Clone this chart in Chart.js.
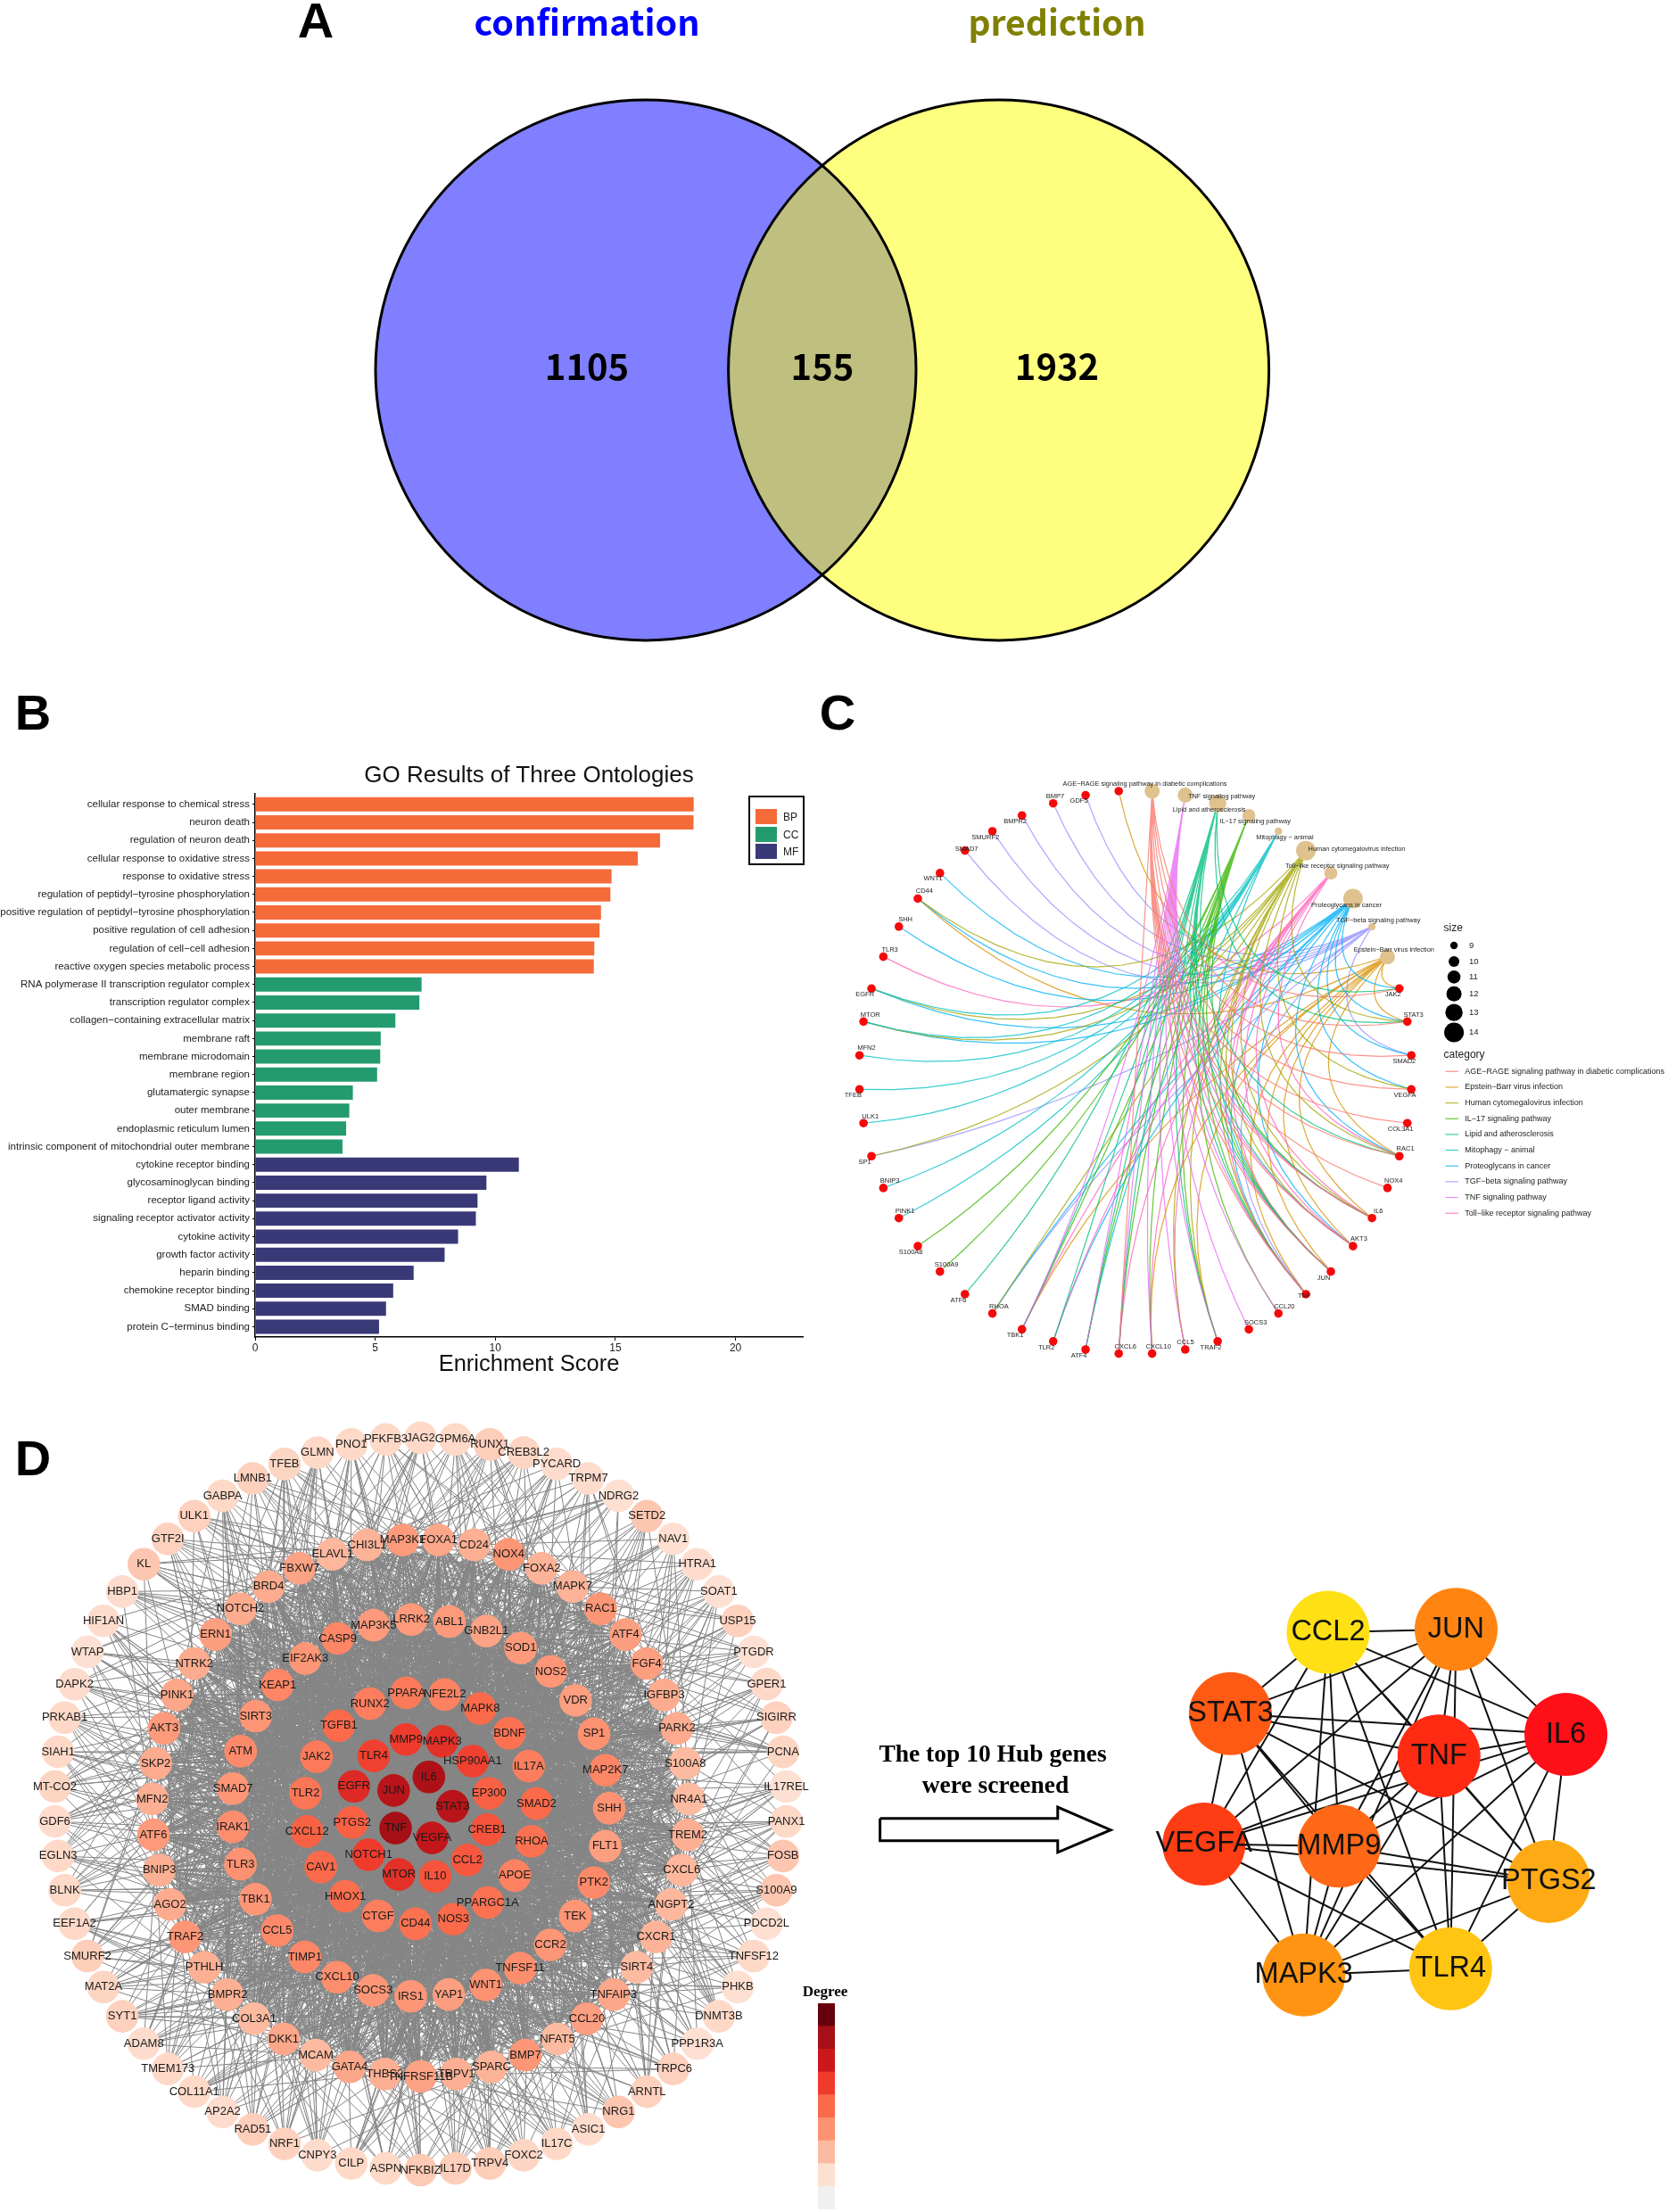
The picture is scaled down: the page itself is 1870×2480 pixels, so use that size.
<!DOCTYPE html>
<html>
<head>
<meta charset="utf-8">
<title>Hub gene figure</title>
<script src="https://cdn.jsdelivr.net/npm/chart.js"></script>
<style>
  html, body { margin: 0; padding: 0; background: #fff; }
  #page { position: relative; width: 1870px; height: 2480px; overflow: hidden; background: #fff; }
  canvas { position: absolute; }
  .t { position: absolute; transform: translate(-50%, -50%); white-space: nowrap; color: #000; }
  .letter { font: bold 56px "Liberation Sans", sans-serif; }
  .serif { font: bold 27.5px "Liberation Serif", serif; }
  #goLegend { position: absolute; left: 839px; top: 892px; width: 59px; height: 74px; border: 2px solid #000; }
  #goLegend i { position: absolute; left: 6px; width: 24px; height: 17px; }
  #goLegend span { position: absolute; left: 37px; font: 12px "Liberation Sans", sans-serif; color: #222; }
</style>
</head>
<body>
<div id="page">
  <canvas id="venn" width="1200" height="760" style="left:300px;top:0"></canvas>
  <canvas id="go" width="920" height="665" style="left:0;top:880px"></canvas>
  <canvas id="cnet" width="950" height="780" style="left:920px;top:770px"></canvas>
  <canvas id="network" width="960" height="890" style="left:0;top:1590px"></canvas>
  <canvas id="hub" width="970" height="730" style="left:900px;top:1750px"></canvas>
  <canvas id="degree" width="19" height="231" style="left:917px;top:2246px"></canvas>

  <div class="t letter" style="left:354px;top:22px">A</div>
  <div class="t letter" style="left:37px;top:798px">B</div>
  <div class="t letter" style="left:939px;top:798px">C</div>
  <div class="t letter" style="left:37px;top:1634px">D</div>

  <div class="t" style="left:593px;top:868px;font:26px 'Liberation Sans',sans-serif;color:#111">GO Results of Three Ontologies</div>
  <div id="goLegend">
    <i style="top:13px;background:#f46a38"></i><span style="top:15px">BP</span>
    <i style="top:33px;background:#239b6e"></i><span style="top:35px">CC</span>
    <i style="top:52px;background:#393978"></i><span style="top:54px">MF</span>
  </div>

  <div class="t" style="left:925px;top:2233px;font:bold 17px 'Liberation Serif',serif">Degree</div>
  <div class="t serif" style="left:1113px;top:1966px">The top 10 Hub genes</div>
  <div class="t serif" style="left:1116px;top:2001px">were screened</div>
</div>

<script>
// ---- panel A
const vennSets = ['confirmation', 'prediction']
const vennCounts = [1105, 155, 1932]

// ---- panel B
const bpTerms = ['cellular response to chemical stress', 'neuron death', 'regulation of neuron death', 'cellular response to oxidative stress', 'response to oxidative stress', 'regulation of peptidyl\u2212tyrosine phosphorylation', 'positive regulation of peptidyl\u2212tyrosine phosphorylation', 'positive regulation of cell adhesion', 'regulation of cell\u2212cell adhesion', 'reactive oxygen species metabolic process']
const bpScores = [18.26, 18.25, 16.86, 15.93, 14.84, 14.79, 14.4, 14.34, 14.12, 14.1]
const ccTerms = ['RNA polymerase II transcription regulator complex', 'transcription regulator complex', 'collagen\u2212containing extracellular matrix', 'membrane raft', 'membrane microdomain', 'membrane region', 'glutamatergic synapse', 'outer membrane', 'endoplasmic reticulum lumen', 'intrinsic component of mitochondrial outer membrane']
const ccScores = [6.93, 6.84, 5.84, 5.23, 5.21, 5.08, 4.07, 3.92, 3.79, 3.64]
const mfTerms = ['cytokine receptor binding', 'glycosaminoglycan binding', 'receptor ligand activity', 'signaling receptor activator activity', 'cytokine activity', 'growth factor activity', 'heparin binding', 'chemokine receptor binding', 'SMAD binding', 'protein C\u2212terminus binding']
const mfScores = [10.98, 9.63, 9.26, 9.19, 8.45, 7.89, 6.6, 5.75, 5.45, 5.16]
const goTicks = [0, 5, 10, 15, 20]

// ---- panel C
const pathways = ['AGE\u2212RAGE signaling pathway in diabetic complications', 'TNF signaling pathway', 'Lipid and atherosclerosis', 'IL\u221217 signaling pathway', 'Mitophagy \u2212 animal', 'Human cytomegalovirus infection', 'Toll\u2212like receptor signaling pathway', 'Proteoglycans in cancer', 'TGF\u2212beta signaling pathway', 'Epstein\u2212Barr virus infection']
const pathwaySizes = [12, 12, 13, 11, 9, 14, 11, 14, 9, 12]
// last gene's label is buried under the AGE-RAGE text in the reference, can't be read
const cnetGenes = ['JAK2', 'STAT3', 'SMAD2', 'VEGFA', 'COL3A1', 'RAC1', 'NOX4', 'IL6', 'AKT3', 'JUN', 'TNF', 'CCL20', 'SOCS3', 'TRAF2', 'CCL5', 'CXCL10', 'CXCL6', 'ATF4', 'TLR2', 'TBK1', 'RHOA', 'ATF6', 'S100A9', 'S100A8', 'PINK1', 'BNIP3', 'SP1', 'ULK1', 'TFEB', 'MFN2', 'MTOR', 'EGFR', 'TLR3', 'SHH', 'CD44', 'WNT1', 'SMAD7', 'SMURF2', 'BMPR2', 'BMP7', 'GDF5', '']
const pathwayGenes = [
  ['JAK2', 'STAT3', 'SMAD2', 'VEGFA', 'COL3A1', 'RAC1', 'NOX4', 'IL6', 'AKT3', 'JUN', 'TNF', 'CXCL6'],
  ['SOCS3', 'CCL20', 'CCL5', 'CXCL10', 'TRAF2', 'IL6', 'AKT3', 'JUN', 'TNF', 'CXCL6', 'ATF4', 'TBK1'],
  ['JAK2', 'STAT3', 'RAC1', 'IL6', 'AKT3', 'JUN', 'TNF', 'TRAF2', 'TBK1', 'TLR2', 'ATF6', 'ATF4', 'CXCL6'],
  ['S100A8', 'S100A9', 'ATF4', 'CXCL6', 'CCL20', 'TRAF2', 'IL6', 'TNF', 'JUN', 'CXCL10', 'TBK1'],
  ['MFN2', 'TFEB', 'ULK1', 'BNIP3', 'PINK1', 'ATF4', 'MTOR', 'EGFR', 'JUN'],
  ['CD44', 'EGFR', 'MTOR', 'SP1', 'STAT3', 'VEGFA', 'RAC1', 'IL6', 'AKT3', 'JUN', 'TNF', 'TRAF2', 'CCL5', 'RHOA'],
  ['TLR3', 'TLR2', 'TBK1', 'CCL5', 'CXCL10', 'CXCL6', 'IL6', 'AKT3', 'JUN', 'TNF', 'RAC1'],
  ['WNT1', 'SHH', 'CD44', 'EGFR', 'MTOR', 'TLR2', 'RHOA', 'STAT3', 'VEGFA', 'RAC1', 'AKT3', 'TNF', 'SMAD2', 'JAK2'],
  ['GDF5', 'BMP7', 'BMPR2', 'SMURF2', 'SMAD7', 'SP1', 'RHOA', 'SMAD2', 'TNF'],
  ['', 'CD44', 'STAT3', 'IL6', 'AKT3', 'JUN', 'TNF', 'TRAF2', 'CXCL10', 'TBK1', 'RAC1', 'JAK2']
]
const legendPathways = ['AGE\u2212RAGE signaling pathway in diabetic complications', 'Epstein\u2212Barr virus infection', 'Human cytomegalovirus infection', 'IL\u221217 signaling pathway', 'Lipid and atherosclerosis', 'Mitophagy \u2212 animal', 'Proteoglycans in cancer', 'TGF\u2212beta signaling pathway', 'TNF signaling pathway', 'Toll\u2212like receptor signaling pathway']
const legendSizes = [9, 10, 11, 12, 13, 14]

// ---- panel D, inner ring first, each ring clockwise from the top
const networkRings = [
  ['IL6', 'STAT3', 'VEGFA', 'TNF', 'JUN'],
  ['MAPK3', 'HSP90AA1', 'EP300', 'CREB1', 'CCL2', 'IL10', 'MTOR', 'NOTCH1', 'PTGS2', 'EGFR', 'TLR4', 'MMP9'],
  ['NFE2L2', 'MAPK8', 'BDNF', 'IL17A', 'SMAD2', 'RHOA', 'APOE', 'PPARGC1A', 'NOS3', 'CD44', 'CTGF', 'HMOX1', 'CAV1', 'CXCL12', 'TLR2', 'JAK2', 'TGFB1', 'RUNX2', 'PPARA'],
  ['ABL1', 'GNB2L1', 'SOD1', 'NOS2', 'VDR', 'SP1', 'MAP2K7', 'SHH', 'FLT1', 'PTK2', 'TEK', 'CCR2', 'TNFSF11', 'WNT1', 'YAP1', 'IRS1', 'SOCS3', 'CXCL10', 'TIMP1', 'CCL5', 'TBK1', 'TLR3', 'IRAK1', 'SMAD7', 'ATM', 'SIRT3', 'KEAP1', 'EIF2AK3', 'CASP9', 'MAP3K5', 'LRRK2'],
  ['FOXA1', 'CD24', 'NOX4', 'FOXA2', 'MAPK7', 'RAC1', 'ATF4', 'FGF4', 'IGFBP3', 'PARK2', 'S100A8', 'NR4A1', 'TREM2', 'CXCL6', 'ANGPT2', 'CXCR1', 'SIRT4', 'TNFAIP3', 'CCL20', 'NFAT5', 'BMP7', 'SPARC', 'TRPV1', 'TNFRSF11B', 'THBS2', 'GATA4', 'MCAM', 'DKK1', 'COL3A1', 'BMPR2', 'PTHLH', 'TRAF2', 'AGO2', 'BNIP3', 'ATF6', 'MFN2', 'SKP2', 'AKT3', 'PINK1', 'NTRK2', 'ERN1', 'NOTCH2', 'BRD4', 'FBXW7', 'ELAVL1', 'CHI3L1', 'MAP3K1'],
  ['JAG2', 'GPM6A', 'RUNX1', 'CREB3L2', 'PYCARD', 'TRPM7', 'NDRG2', 'SETD2', 'NAV1', 'HTRA1', 'SOAT1', 'USP15', 'PTGDR', 'GPER1', 'SIGIRR', 'PCNA', 'IL17REL', 'PANX1', 'FOSB', 'S100A9', 'PDCD2L', 'TNFSF12', 'PHKB', 'DNMT3B', 'PPP1R3A', 'TRPC6', 'ARNTL', 'NRG1', 'ASIC1', 'IL17C', 'FOXC2', 'TRPV4', 'IL17D', 'NFKBIZ', 'ASPN', 'CILP', 'CNPY3', 'NRF1', 'RAD51', 'AP2A2', 'COL11A1', 'TMEM173', 'ADAM8', 'SYT1', 'MAT2A', 'SMURF2', 'EEF1A2', 'BLNK', 'EGLN3', 'GDF6', 'MT-CO2', 'SIAH1', 'PRKAB1', 'DAPK2', 'WTAP', 'HIF1AN', 'HBP1', 'KL', 'GTF2I', 'ULK1', 'GABPA', 'LMNB1', 'TFEB', 'GLMN', 'PNO1', 'PFKFB3']
]
// degree band of each node (0 palest .. 8 darkest)
const networkDegreeBands = [
  [6.8, 6.5, 6.2, 7, 6.5],
  [5.3, 4.9, 4.2, 4.5, 4.4, 4.5, 5.3, 5, 4.2, 5.5, 4.9, 5],
  [3.4, 4, 3.8, 3.5, 4, 3.8, 3.4, 3.8, 4, 3.8, 3.5, 3.9, 4, 4.2, 3.7, 3.6, 4, 3.5, 3.6],
  [2.8, 2.6, 2.8, 2.9, 2.7, 3, 3.3, 3, 2.7, 3.2, 2.9, 2.9, 3.1, 3, 2.7, 2.9, 2.9, 3.1, 3.3, 3.2, 2.9, 3, 3.1, 2.9, 3.2, 2.9, 3.3, 2.9, 3.3, 2.8, 2.8],
  [2.5, 2.3, 2.9, 2.2, 2.2, 2.9, 2.7, 2.7, 2.4, 2.4, 2, 2, 2.3, 2.1, 2.1, 2.2, 2, 2.5, 2.7, 2, 2.9, 2.2, 2.3, 2.6, 2.3, 2.5, 2, 2.5, 2, 2.3, 2.3, 2.9, 2.4, 2.3, 2.8, 2.3, 2.4, 2.8, 2.5, 2.4, 2.7, 2.4, 2.4, 2.6, 2.1, 2.2, 2.8],
  [1.2, 1.2, 1.5, 1.3, 1.1, 1.1, 1, 1.7, 1, 1.1, 1, 1.4, 1, 1.2, 1.4, 1.3, 1, 1.2, 1.7, 1.7, 1, 1.2, 1, 1.2, 1, 1.4, 1.4, 1.7, 1.1, 1.2, 1.3, 1.5, 1.5, 1.6, 1.2, 1.2, 1.1, 1.4, 1.5, 1.1, 1.2, 1.2, 1.1, 1.4, 1.3, 1.5, 1.2, 1.2, 1.2, 1.1, 1.3, 1.2, 1.2, 1.1, 1, 1.1, 1.1, 1.7, 1.4, 1.4, 1.2, 1.4, 1.3, 1.2, 1.2, 1.2]
]
const degreeBands = [1, 1, 1, 1, 1, 1, 1, 1, 1]
// single edges of this network can't be traced in the picture, so the grey mesh is a stand-in:
// [ring, other ring, links per node], offsets cycled from a fixed list
const ringLinks = [[5, 4, 6], [5, 3, 4], [5, 2, 2], [4, 3, 14], [4, 2, 14], [4, 1, 10], [4, 0, 3], [4, 4, 4], [3, 3, 14], [3, 2, 19], [3, 1, 12], [3, 0, 5], [2, 2, 10], [2, 1, 12], [2, 0, 5], [1, 0, 5], [1, 1, 6]]
const linkOffsets = [3, -7, 11, -2, 16, -12, 5, -19, 8, -4, 22, -15, 1, 13, -9, 6, -23, 18, -1, 10]

// ---- hub genes
const hubGenes = ['CCL2', 'JUN', 'IL6', 'TNF', 'STAT3', 'VEGFA', 'MMP9', 'PTGS2', 'TLR4', 'MAPK3']
const hubEdges = [
  ['CCL2', 'JUN'], ['CCL2', 'STAT3'], ['CCL2', 'VEGFA'], ['CCL2', 'MMP9'], ['CCL2', 'TNF'], ['CCL2', 'IL6'], ['CCL2', 'MAPK3'], ['CCL2', 'TLR4'], ['CCL2', 'PTGS2'],
  ['JUN', 'STAT3'], ['JUN', 'VEGFA'], ['JUN', 'IL6'], ['JUN', 'MMP9'], ['JUN', 'TNF'], ['JUN', 'MAPK3'], ['JUN', 'TLR4'], ['JUN', 'PTGS2'],
  ['STAT3', 'VEGFA'], ['STAT3', 'TNF'], ['STAT3', 'IL6'], ['STAT3', 'MMP9'], ['STAT3', 'PTGS2'], ['STAT3', 'TLR4'], ['STAT3', 'MAPK3'],
  ['VEGFA', 'MMP9'], ['VEGFA', 'TNF'], ['VEGFA', 'IL6'], ['VEGFA', 'PTGS2'], ['VEGFA', 'TLR4'], ['VEGFA', 'MAPK3'],
  ['MMP9', 'TNF'], ['MMP9', 'IL6'], ['MMP9', 'PTGS2'], ['MMP9', 'TLR4'], ['MMP9', 'MAPK3'],
  ['TNF', 'IL6'], ['TNF', 'PTGS2'], ['TNF', 'TLR4'], ['TNF', 'MAPK3'],
  ['IL6', 'PTGS2'], ['IL6', 'TLR4'], ['IL6', 'MAPK3'],
  ['PTGS2', 'TLR4'], ['PTGS2', 'MAPK3'], ['TLR4', 'MAPK3']
]

const SANS = '"Liberation Sans", Arial, sans-serif'
const GAP = { x: NaN, y: NaN }

// draws text at data coordinates, items come from the plugin options
const textPlugin = {
  id: 'texts',
  afterDatasetsDraw(chart, args, opts) {
    const ctx = chart.ctx
    ctx.save()
    ctx.textBaseline = 'middle'
    for (const it of opts.items || []) {
      ctx.font = it.font
      ctx.fillStyle = it.color || '#222'
      ctx.textAlign = it.align || 'center'
      ctx.fillText(it.text, chart.scales.x.getPixelForValue(it.x), chart.scales.y.getPixelForValue(it.y))
    }
    ctx.restore()
  }
}

// options for the panels which have no visible axes
function plainOptions(xMax, yMin, yMax, reverse, items, xMin = 0) {
  return {
    responsive: false,
    animation: false,
    devicePixelRatio: 1,
    layout: { padding: 0, autoPadding: false },
    events: [],
    scales: {
      x: { type: 'linear', display: false, min: xMin, max: xMax },
      y: { type: 'linear', display: false, min: yMin, max: yMax, reverse: reverse }
    },
    plugins: { legend: { display: false }, tooltip: { enabled: false }, texts: { items: items } }
  }
}

function lineSet(points, color, width, order) {
  return { type: 'scatter', data: points, showLine: true, borderColor: color, borderWidth: width, pointRadius: 0, fill: false, spanGaps: false, tension: 0, order: order, clip: false }
}

// ---- panel A
const vennItems = [
  { x: 358, y: 25, text: vennSets[0], color: '#0000ff', font: 'bold 39.5px "Noto Sans CJK SC", sans-serif' },
  { x: 885, y: 25, text: vennSets[1], color: '#808000', font: 'bold 39px "Noto Sans CJK SC", sans-serif' }
]
const vennSpots = [358, 622, 885]
vennCounts.forEach((n, i) => vennItems.push({ x: vennSpots[i], y: 411, text: String(n), color: '#000', font: 'bold 40px "Noto Sans CJK SC", sans-serif' }))
const vennCircles = [{ x: 424, y: 415 }, { x: 819.6, y: 415 }]
new Chart(document.getElementById('venn'), {
  type: 'scatter',
  data: {
    datasets: [
      { data: vennCircles, pointRadius: 303, pointBackgroundColor: 'rgba(0,0,0,0)', pointBorderColor: '#000', pointBorderWidth: 3, order: 0, clip: false },
      { data: [vennCircles[1]], pointRadius: 303, pointBackgroundColor: 'rgba(255,255,0,0.5)', pointBorderWidth: 0, order: 1, clip: false },
      { data: [vennCircles[0]], pointRadius: 303, pointBackgroundColor: 'rgba(0,0,255,0.5)', pointBorderWidth: 0, order: 2, clip: false }
    ]
  },
  options: plainOptions(1200, 0, 760, true, vennItems),
  plugins: [textPlugin]
})

// ---- panel B
const goTerms = bpTerms.concat(ccTerms, mfTerms)
const goBars = (scores, start) => scores.map((v, i) => ({ x: v, y: start + i }))
const goBarStyle = { barPercentage: 0.79, categoryPercentage: 1, grouped: false }
new Chart(document.getElementById('go'), {
  type: 'bar',
  data: {
    datasets: [
      { label: 'BP', data: goBars(bpScores, 0), backgroundColor: '#f46a38', ...goBarStyle },
      { label: 'CC', data: goBars(ccScores, 10), backgroundColor: '#239b6e', ...goBarStyle },
      { label: 'MF', data: goBars(mfScores, 20), backgroundColor: '#393978', ...goBarStyle }
    ]
  },
  options: {
    indexAxis: 'y',
    responsive: false,
    animation: false,
    devicePixelRatio: 1,
    events: [],
    layout: { padding: { top: 9.4, right: 20, left: 0, bottom: 0 }, autoPadding: false },
    plugins: { legend: { display: false }, tooltip: { enabled: false } },
    scales: {
      x: {
        type: 'linear',
        min: 0,
        max: 22.8,
        afterBuildTicks: a => { a.ticks = goTicks.map(v => ({ value: v })) },
        afterFit: s => { s.height = 46 },
        border: { color: '#000', width: 1.5 },
        grid: { drawOnChartArea: false, color: '#000', tickLength: 4 },
        ticks: { color: '#222', font: { family: SANS, size: 12 }, padding: 1, maxRotation: 0 },
        title: { display: true, text: 'Enrichment Score', color: '#111', font: { family: SANS, size: 25.5 }, padding: 0 }
      },
      y: {
        type: 'linear',
        reverse: true,
        offset: false,
        min: -0.59,
        max: 29.57,
        afterBuildTicks: a => { a.ticks = goTerms.map((t, i) => ({ value: i })) },
        afterFit: s => { s.width = 286 },
        border: { color: '#000', width: 1.5 },
        grid: { offset: false, drawOnChartArea: false, color: '#000', tickLength: 3 },
        ticks: { autoSkip: false, color: '#222', font: { family: SANS, size: 11.5 }, padding: 3, callback: v => goTerms[v] }
      }
    }
  }
})

// ---- panel C, plot units are 1568 x 1568 over the 950 x 780 canvas
const hueOf = {
  'AGE\u2212RAGE': '#F8766D', 'Epstein': '#D89000', 'Human': '#A3A500', 'IL\u221217': '#39B600', 'Lipid': '#00BF7D',
  'Mitophagy': '#00BFC4', 'Proteoglycans': '#00B0F6', 'TGF': '#9590FF', 'TNF': '#E76BF3', 'Toll': '#FF62BC'
}
const pathwayColor = name => hueOf[Object.keys(hueOf).find(k => name.startsWith(k))]
const sizeRadius = { 9: 4.2, 10: 6, 11: 7.3, 12: 8.5, 13: 9.7, 14: 11 }
const cnetSpokes = pathways.length + cnetGenes.length
const cnetSpot = i => {
  const a = (i + 0.5) * 2 * Math.PI / cnetSpokes
  return { x: 582.5 + 511.5 * Math.sin(a), y: 869 - 635 * Math.cos(a) }
}
const cnetHub = { x: 580, y: 930 }
const pathwaySpots = pathways.map((p, i) => cnetSpot(i))
const geneSpots = cnetGenes.map((g, i) => cnetSpot(i + pathways.length))

// arc pulled towards the hub, short chords bend less
function arcPoints(a, b) {
  const midX = (a.x + b.x) / 2, midY = (a.y + b.y) / 2
  const pull = Math.min(1, Math.hypot(a.x - b.x, a.y - b.y) / 900)
  const cx = midX + pull * (cnetHub.x - midX), cy = midY + pull * (cnetHub.y - midY)
  const pts = []
  for (let s = 0; s <= 16; s++) {
    const t = s / 16, u = 1 - t
    pts.push({ x: u * u * a.x + 2 * u * t * cx + t * t * b.x, y: u * u * a.y + 2 * u * t * cy + t * t * b.y })
  }
  pts.push(GAP)
  return pts
}

const pathwayLabelSpots = [[600, 219], [742, 247], [719, 277], [804, 304], [859, 340], [992, 366], [956, 404], [973, 492], [1032, 526], [1061, 593]]
const geneLabelSpots = [[1059, 694], [1097, 739], [1080, 844], [1081, 921], [1073, 997], [1082, 1042], [1060, 1114], [1032, 1182], [996, 1245], [931, 1333], [895, 1372], [858, 1397], [805, 1433], [722, 1490], [675, 1478], [625, 1488], [564, 1487], [478, 1508], [418, 1490], [360, 1462], [330, 1397], [255, 1383], [233, 1303], [167, 1275], [156, 1182], [128, 1114], [82, 1072], [92, 968], [60, 921], [85, 815], [92, 739], [82, 694], [128, 593], [157, 525], [192, 461], [208, 433], [270, 366], [305, 340], [360, 304], [434, 247], [478, 258], [565, 218]]
const cnetItems = []
pathways.forEach((p, i) => cnetItems.push({ x: pathwayLabelSpots[i][0], y: pathwayLabelSpots[i][1], text: p, font: '7.4px ' + SANS }))
cnetGenes.forEach((g, i) => cnetItems.push({ x: geneLabelSpots[i][0], y: geneLabelSpots[i][1], text: g, font: '7.5px ' + SANS }))
cnetItems.push({ x: 1153, y: 545, text: 'size', align: 'left', font: '12px ' + SANS })
cnetItems.push({ x: 1153, y: 829, text: 'category', align: 'left', font: '12px ' + SANS })
const sizeLegendY = [583, 619, 654, 692, 734, 779]
legendSizes.forEach((s, i) => cnetItems.push({ x: 1200, y: sizeLegendY[i], text: String(s), align: 'left', font: '9.5px ' + SANS }))
legendPathways.forEach((p, i) => cnetItems.push({ x: 1192, y: 867 + i * 35.5, text: p, align: 'left', font: '9px ' + SANS }))

const cnetSets = []
cnetSets.push({ type: 'scatter', data: pathwaySpots, pointRadius: pathwaySizes.map(s => sizeRadius[s]), pointBackgroundColor: '#e0c28e', pointBorderWidth: 0, order: 0, clip: false })
cnetSets.push({ type: 'scatter', data: geneSpots, pointRadius: 4.8, pointBackgroundColor: '#f50a0a', pointBorderWidth: 0, order: 0, clip: false })
cnetSets.push({ type: 'scatter', data: legendSizes.map((s, i) => ({ x: 1172, y: sizeLegendY[i] })), pointRadius: legendSizes.map(s => sizeRadius[s]), pointBackgroundColor: '#000', pointBorderWidth: 0, order: 0, clip: false })
pathways.forEach((p, i) => {
  const pts = []
  pathwayGenes[i].forEach(g => pts.push(...arcPoints(pathwaySpots[i], geneSpots[cnetGenes.indexOf(g)])))
  cnetSets.push(lineSet(pts, pathwayColor(p) + 'c8', 1.2, 1))
})
legendPathways.forEach((p, i) => {
  cnetSets.push(lineSet([{ x: 1156, y: 867 + i * 35.5 }, { x: 1180, y: 867 + i * 35.5 }], pathwayColor(p) + 'c8', 1.2, 1))
})
new Chart(document.getElementById('cnet'), {
  type: 'scatter',
  data: { datasets: cnetSets },
  options: plainOptions(1568, 0, 1568, true, cnetItems),
  plugins: [textPlugin]
})

// ---- panel D, plot units are pixels from the middle of the network
const reds = ['#f0f0f0', '#fee0d2', '#fcbba1', '#fc9272', '#fb6a4a', '#ef3b2c', '#cb181d', '#a50f15', '#67000d']
function bandColor(band) {
  const i = Math.min(Math.floor(band), 7), f = band - i
  const rgb = h => [1, 3, 5].map(p => parseInt(h.substr(p, 2), 16))
  const a = rgb(reds[i]), b = rgb(reds[i + 1])
  return 'rgb(' + a.map((v, k) => Math.round(v + (b[k] - v) * f)).join(',') + ')'
}
const ringRadius = [36, 78.5, 130, 211.5, 301, 410.5]
const ringStart = [15, 18, 12, 8.8, 3.83, 0]
const ringLift = [0, 0, 0, 0, 0, 4.5]
const ringNodes = networkRings.map((names, r) => names.map((name, i) => {
  const a = (ringStart[r] + i * 360 / names.length) * Math.PI / 180
  return { x: ringRadius[r] * Math.sin(a), y: ringRadius[r] * Math.cos(a) + ringLift[r] }
}))

const meshPoints = []
ringLinks.forEach(([from, to, count]) => {
  const a = ringNodes[from], b = ringNodes[to]
  a.forEach((p, i) => {
    for (let k = 0; k < count; k++) {
      const off = linkOffsets[(i * 3 + k * 7 + from) % linkOffsets.length]
      const j = (Math.round(i / a.length * b.length + off * b.length / 40 + k * b.length / Math.max(count, 3)) % b.length + b.length) % b.length
      if (from === to && i === j) continue
      meshPoints.push(p, b[j], GAP)
    }
  })
})

const networkItems = []
networkRings.forEach((names, r) => names.forEach((name, i) => {
  networkItems.push({ x: ringNodes[r][i].x, y: ringNodes[r][i].y, text: name, font: '13px ' + SANS, color: '#1a1a1a' })
}))
new Chart(document.getElementById('network'), {
  type: 'scatter',
  data: {
    datasets: [
      {
        data: ringNodes.flat(),
        pointRadius: 18.3,
        pointBackgroundColor: networkDegreeBands.flat().map(bandColor),
        pointBorderWidth: 0,
        order: 0,
        clip: false
      },
      lineSet(meshPoints, '#858585', 1, 1)
    ]
  },
  options: plainOptions(488.5, -453, 437, false, networkItems, -471.5),
  plugins: [textPlugin]
})

new Chart(document.getElementById('degree'), {
  type: 'bar',
  data: {
    labels: ['Degree'],
    datasets: degreeBands.map((v, i) => ({ data: [v], backgroundColor: reds[i], barPercentage: 1, categoryPercentage: 1, borderWidth: 0 }))
  },
  options: {
    responsive: false,
    animation: false,
    devicePixelRatio: 1,
    events: [],
    layout: { padding: 0, autoPadding: false },
    scales: {
      x: { display: false, stacked: true },
      y: { display: false, stacked: true, min: 0, max: degreeBands.length }
    },
    plugins: { legend: { display: false }, tooltip: { enabled: false } }
  }
})

// ---- hub genes, plot units are 1568 x 1568 over the 970 x 730 canvas
const hubLayout = {
  CCL2: [952, 172], JUN: [1184, 165], IL6: [1383, 418], TNF: [1153, 470], STAT3: [775, 368],
  VEGFA: [727, 682], MMP9: [972, 687], PTGS2: [1352, 772], TLR4: [1174, 982], MAPK3: [908, 997]
}
const hubColors = { CCL2: '#ffe015', JUN: '#ff8412', IL6: '#ff0f18', TNF: '#ff2a12', STAT3: '#ff5a14', VEGFA: '#ff3d14', MMP9: '#ff6816', PTGS2: '#fdaa14', TLR4: '#ffc512', MAPK3: '#ff9412' }
const hubSpot = g => ({ x: hubLayout[g][0], y: hubLayout[g][1] })
const hubMesh = []
hubEdges.forEach(([a, b]) => hubMesh.push(hubSpot(a), hubSpot(b), GAP))
const arrowOutline = [[140, 620], [462, 620], [462, 593], [558, 648], [462, 702], [462, 674], [140, 674], [140, 620]].map(p => ({ x: p[0], y: p[1] }))
new Chart(document.getElementById('hub'), {
  type: 'scatter',
  data: {
    datasets: [
      { data: hubGenes.map(hubSpot), pointRadius: 46.5, pointBackgroundColor: hubGenes.map(g => hubColors[g]), pointBorderWidth: 0, order: 0, clip: false },
      lineSet(hubMesh, '#111', 2, 1),
      lineSet(arrowOutline, '#000', 3, 1)
    ]
  },
  options: plainOptions(1568, 0, 1568, true, hubGenes.map(g => ({ x: hubLayout[g][0], y: hubLayout[g][1], text: g, color: '#111', font: '32.5px ' + SANS }))),
  plugins: [textPlugin]
})
</script>
</body>
</html>
